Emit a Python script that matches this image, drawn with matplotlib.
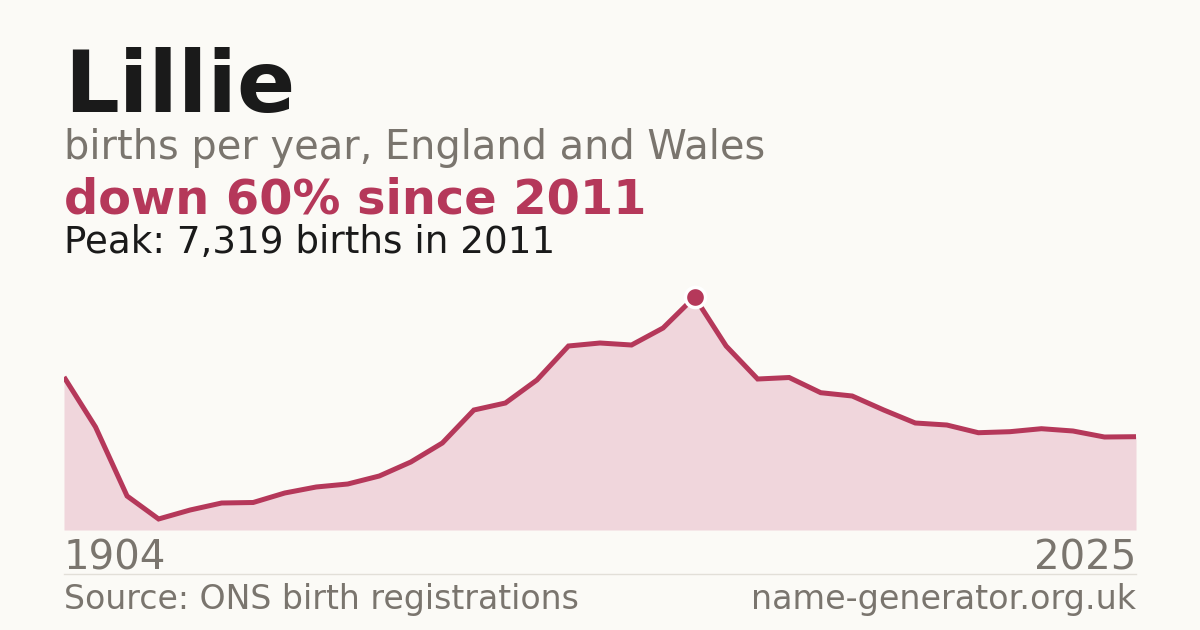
import matplotlib
import matplotlib.pyplot as plt

matplotlib.use("Agg")

# yearly births for the name
years = [1904, 1914, 1924, 1934, 1944, 1954, 1964, 1974, 1984, 1994,
         2001, 2002, 2003, 2004, 2005, 2006, 2007, 2008, 2009, 2010,
         2011, 2012, 2013, 2014, 2015, 2016, 2017, 2018, 2019, 2020,
         2021, 2022, 2023, 2024, 2025]
births = [4806, 3235, 1068, 346, 628, 848, 864, 1162, 1351, 1445,
          1696, 2136, 2733, 3769, 3989, 4712, 5780, 5874, 5811, 6345,
          7319, 5780, 4743, 4790, 4313, 4209, 3769, 3361, 3298, 3056,
          3088, 3182, 3110, 2921, 2931]

name = "Lillie"
subtitle = "births per year, England and Wales"
source = "Source: ONS birth registrations"
site = "name-generator.org.uk"

BG = "#fbfaf6"
RED = "#b5385a"
FILL = "#f0d6dc"
GREY = "#7a756e"
INK = "#1a1a1a"

W, H = 1200, 630


def fy(py):
    """pixel row -> figure fraction"""
    return 1 - py / H


def fx(px):
    return px / W


def main():
    peak_i = births.index(max(births))
    peak = births[peak_i]
    drop = round((1 - births[-1] / peak) * 100)

    fig = plt.figure(figsize=(12, 6.3), dpi=100, facecolor=BG)

    # text block
    fig.text(fx(64), fy(112), name, fontsize=62, fontweight="bold",
             color=INK, va="baseline")
    fig.text(fx(64), fy(159), subtitle, fontsize=28.7, color=GREY,
             va="baseline")
    fig.text(fx(64), fy(214), f"down {drop}% since {years[peak_i]}",
             fontsize=34.5, fontweight="bold", color=RED, va="baseline")
    fig.text(fx(64), fy(253), f"Peak: {peak:,} births in {years[peak_i]}",
             fontsize=26.8, color=INK, va="baseline")

    # chart area
    top_px, base_px = 280, 530
    ax = fig.add_axes([fx(64), fy(base_px), fx(1136) - fx(64),
                       (base_px - top_px) / H])
    ax.set_facecolor(BG)
    idx = list(range(len(years)))
    ax.fill_between(idx, births, 0, color=FILL, lw=0)
    ax.plot(idx, births, color=RED, lw=3.6, solid_joinstyle="miter",
            solid_capstyle="butt")
    ax.plot([peak_i], [peak], "o", ms=14.5, mfc=RED, mec="white", mew=2.5,
            zorder=5, clip_on=False)
    ax.set_xlim(0, len(years) - 1)
    ax.set_ylim(0, peak * (base_px - top_px) / (base_px - 297))
    ax.axis("off")

    fig.text(fx(64), fy(570), str(years[0]), fontsize=29, color=GREY,
             va="baseline")
    fig.text(fx(1136), fy(570), str(years[-1]), fontsize=29, color=GREY,
             va="baseline", ha="right")

    fig.add_artist(plt.Line2D([fx(64), fx(1136)], [fy(574), fy(574)],
                              color="#e2dfd8", lw=1))

    fig.text(fx(64), fy(609), source, fontsize=23.9, color=GREY,
             va="baseline")
    fig.text(fx(1136), fy(609), site, fontsize=24, color=GREY,
             va="baseline", ha="right")

    fig.savefig("out.png", dpi=100, facecolor=BG)


if __name__ == "__main__":
    main()
